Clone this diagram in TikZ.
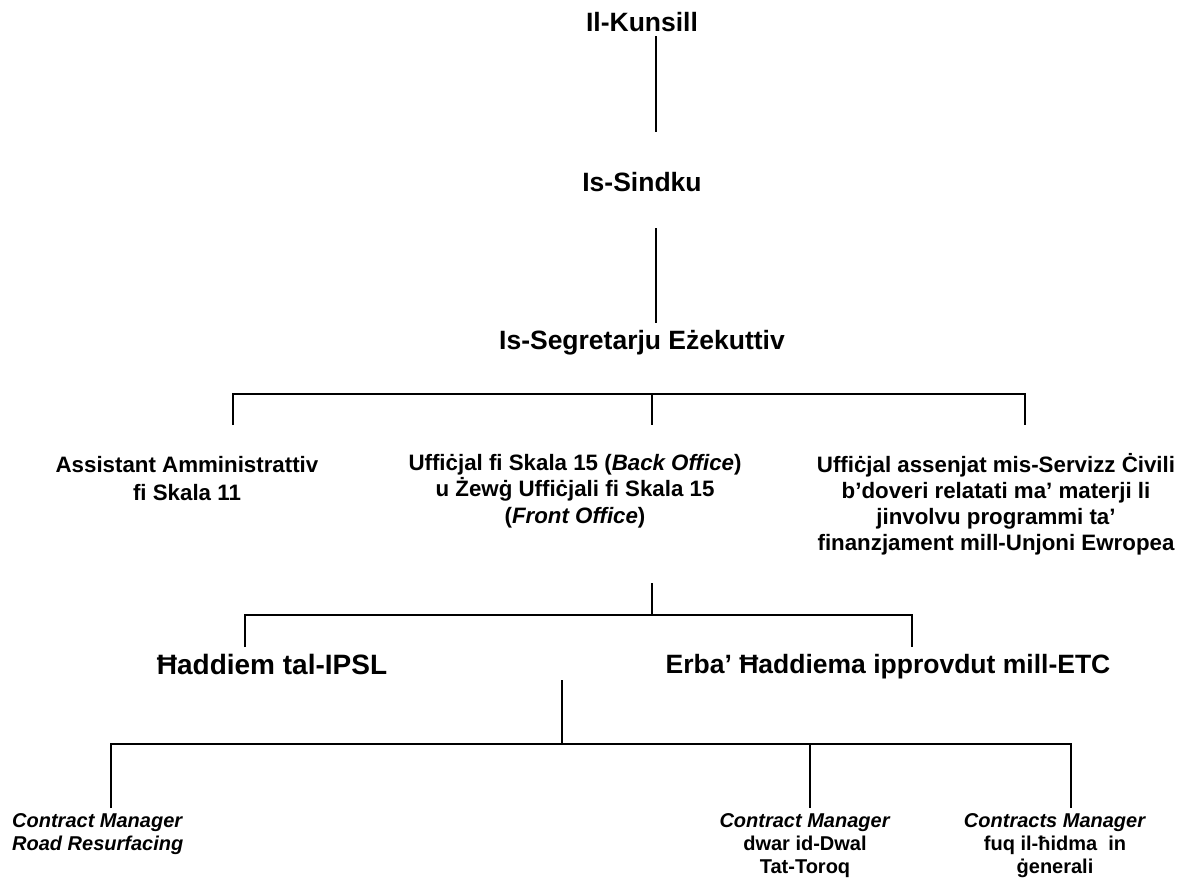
\documentclass[tikz,border=0pt]{standalone}
\usepackage{fontspec}
\setmainfont{Liberation Sans}
\begin{document}
\begin{tikzpicture}[x=1pt,y=-1pt,
  toplabel/.style={font=\fontsize{26.5}{32}\selectfont\bfseries, inner sep=0pt, anchor=base},
  midlabel/.style={font=\fontsize{22.3}{26.5}\selectfont\bfseries, inner sep=0pt, anchor=base, align=center},
  lowlabel/.style={font=\fontsize{20}{23}\selectfont\bfseries, inner sep=0pt, anchor=base, align=center},
  conn/.style={line width=1.8pt, black}]
\useasboundingbox (0,0) rectangle (1191,879);

% nodes (base anchor = baseline of the last line)
\node[toplabel] (kunsill) at (642,31) {Il-Kunsill};
\node[toplabel] (sindku) at (642,191) {Is-Sindku};
\node[toplabel] (segretarju) at (642,349) {Is-Segretarju Eżekuttiv};
\node[midlabel, font=\fontsize{22.3}{28}\selectfont\bfseries] (assistant) at (187,500) {Assistant Amministrattiv\\fi Skala 11};
\node[midlabel] (ufficjal) at (575,523) {Uffiċjal fi Skala 15 (\textit{Back Office})\\u Żewġ Uffiċjali fi Skala 15\\(\textit{Front Office})};
\node[midlabel, font=\fontsize{22.3}{26}\selectfont\bfseries] (ewropea) at (996,550) {Uffiċjal assenjat mis-Servizz Ċivili\\b’doveri relatati ma’ materji li\\jinvolvu programmi ta’\\finanzjament mill-Unjoni Ewropea};
\node[toplabel, font=\fontsize{28}{32}\selectfont\bfseries] (ipsl) at (272,674) {Ħaddiem tal-IPSL};
\node[toplabel] (etc) at (888,673) {Erba’ Ħaddiema ipprovdut mill-ETC};
\node[lowlabel, anchor=base west, align=left] (cmroad) at (12,850) {\textit{Contract Manager}\\\textit{Road Resurfacing}};
\node[lowlabel] (cmdwal) at (805,873) {\textit{Contract Manager}\\dwar id-Dwal\\Tat-Toroq};
\node[lowlabel] (cmgen) at (1055,873) {\textit{Contracts Manager}\\fuq il-ħidma~ in\\ġenerali};

% connector end points
\coordinate (kunsillOut) at (656,36);
\coordinate (sindkuIn) at (656,132);
\coordinate (sindkuOut) at (656,228);
\coordinate (segretarjuIn) at (656,323);
\coordinate (segBarL) at (233,394);
\coordinate (segBarM) at (652,394);
\coordinate (segBarR) at (1025,394);
\coordinate (assistantIn) at (233,425);
\coordinate (ufficjalIn) at (652,425);
\coordinate (ewropeaIn) at (1025,425);
\coordinate (ufficjalOut) at (652,583);
\coordinate (ufBarM) at (652,615);
\coordinate (ufBarL) at (245,615);
\coordinate (ufBarR) at (912,615);
\coordinate (ipslIn) at (245,647);
\coordinate (etcIn) at (912,647);
\coordinate (staffOut) at (562,680);
\coordinate (stBarM) at (562,744);
\coordinate (stBarL) at (111,744);
\coordinate (stBarC) at (810,744);
\coordinate (stBarR) at (1071,744);
\coordinate (cmroadIn) at (111,808);
\coordinate (cmdwalIn) at (810,808);
\coordinate (cmgenIn) at (1071,808);

% connectors
\draw[conn] (kunsillOut) -- (sindkuIn);
\draw[conn] (sindkuOut) -- (segretarjuIn);
\draw[conn] (assistantIn) -- (segBarL) -- (segBarR) -- (ewropeaIn);
\draw[conn] (segBarM) -- (ufficjalIn);
\draw[conn] (ufficjalOut) -- (ufBarM);
\draw[conn] (ipslIn) -- (ufBarL) -- (ufBarR) -- (etcIn);
\draw[conn] (staffOut) -- (stBarM);
\draw[conn] (cmroadIn) -- (stBarL) -- (stBarR) -- (cmgenIn);
\draw[conn] (stBarC) -- (cmdwalIn);
\end{tikzpicture}
\end{document}
